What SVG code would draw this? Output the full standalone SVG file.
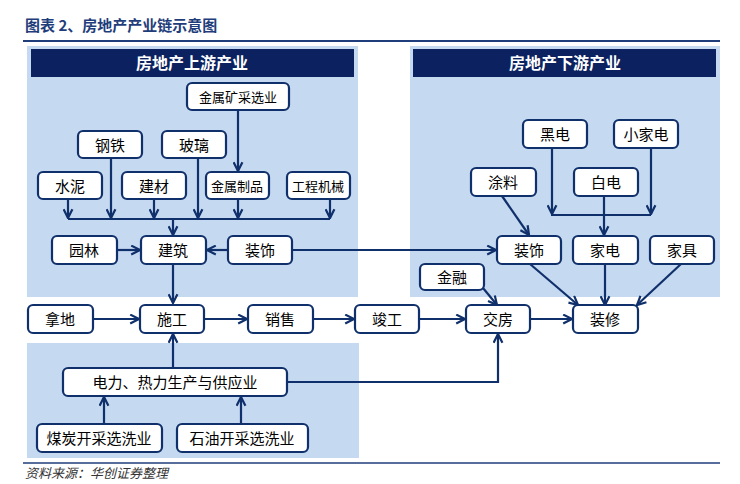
<svg xmlns="http://www.w3.org/2000/svg" width="740" height="484" viewBox="0 0 740 484">
<style>
.n rect{fill:#fff;stroke:#10306b;stroke-width:2.2}
.n text{font-family:"Liberation Sans","Noto Sans CJK SC",sans-serif;font-size:15px;fill:#000;text-anchor:middle;dominant-baseline:central}
.s text{font-size:13px}
.c line,.c polyline{stroke:#10306b;stroke-width:2.2;fill:none}
.h{fill:#0c2260}
.ht{font-family:"Noto Sans CJK SC",sans-serif;font-size:16px;fill:#fff;text-anchor:middle;font-weight:bold}
</style>
<defs><marker id="a" viewBox="0 0 10 10" refX="9" refY="5" markerWidth="5" markerHeight="5" orient="auto"><polyline points="1,1 9,5 1,9" fill="none" stroke="#10306b" stroke-width="2"/></marker></defs>
<text x="25" y="31" font-family="Noto Sans CJK SC,sans-serif" font-size="15" font-weight="bold" fill="#1f3d7a">图表 2、房地产产业链示意图</text>
<line x1="23" y1="41" x2="720" y2="41" stroke="#1f3d7a" stroke-width="2"/>
<rect x="27" y="46" width="331" height="251" fill="#c5d9f1"/>
<rect x="410" y="46" width="310" height="251" fill="#c5d9f1"/>
<rect x="27" y="343" width="332" height="115" fill="#c5d9f1"/>
<rect class="h" x="31" y="49" width="323" height="28"/>
<text class="ht" x="192" y="69">房地产上游产业</text>
<rect class="h" x="413" y="49" width="303" height="28"/>
<text class="ht" x="565" y="69">房地产下游产业</text>
<g class="c">
<polyline points="68,219 330,219"/>
<line x1="68" y1="199" x2="68" y2="218" marker-end="url(#a)"/>
<line x1="111" y1="158" x2="111" y2="218" marker-end="url(#a)"/>
<line x1="154" y1="199" x2="154" y2="218" marker-end="url(#a)"/>
<line x1="198" y1="158" x2="198" y2="218" marker-end="url(#a)"/>
<line x1="238" y1="199" x2="238" y2="218" marker-end="url(#a)"/>
<line x1="330" y1="199" x2="330" y2="218" marker-end="url(#a)"/>
<line x1="238" y1="110" x2="238" y2="171" marker-end="url(#a)"/>
<line x1="173" y1="219" x2="173" y2="235" marker-end="url(#a)"/>
<line x1="117" y1="250" x2="140" y2="250" marker-end="url(#a)"/>
<line x1="228" y1="250" x2="207" y2="250" marker-end="url(#a)"/>
<line x1="292" y1="250" x2="496" y2="250" marker-end="url(#a)"/>
<line x1="173" y1="264" x2="173" y2="303" marker-end="url(#a)"/>
<line x1="93" y1="319" x2="139" y2="319" marker-end="url(#a)"/>
<line x1="204" y1="319" x2="247" y2="319" marker-end="url(#a)"/>
<line x1="313" y1="319" x2="354" y2="319" marker-end="url(#a)"/>
<line x1="419" y1="319" x2="465" y2="319" marker-end="url(#a)"/>
<line x1="530" y1="319" x2="572" y2="319" marker-end="url(#a)"/>
<line x1="173" y1="368" x2="173" y2="334" marker-end="url(#a)"/>
<polyline points="287,382 498,382 498,334" marker-end="url(#a)"/>
<line x1="104" y1="424" x2="104" y2="397" marker-end="url(#a)"/>
<line x1="241" y1="424" x2="241" y2="397" marker-end="url(#a)"/>
<polyline points="551,215 651,215"/>
<line x1="552" y1="148" x2="552" y2="214" marker-end="url(#a)"/>
<line x1="651" y1="148" x2="651" y2="214" marker-end="url(#a)"/>
<line x1="604" y1="196" x2="604" y2="235" marker-end="url(#a)"/>
<line x1="502" y1="196" x2="529" y2="235" marker-end="url(#a)"/>
<line x1="530" y1="264" x2="578" y2="305" marker-end="url(#a)"/>
<line x1="605" y1="264" x2="605" y2="305" marker-end="url(#a)"/>
<line x1="681" y1="264" x2="637" y2="305" marker-end="url(#a)"/>
<line x1="483" y1="288" x2="497" y2="305" marker-end="url(#a)"/>
</g>
<g class="n s" id="jsk"><rect x="187" y="83" width="102" height="27" rx="5"/><text x="238" y="97">金属矿采选业</text></g>
<g class="n" id="gt"><rect x="78" y="131" width="64" height="27" rx="5"/><text x="110" y="145">钢铁</text></g>
<g class="n" id="bl"><rect x="162" y="131" width="64" height="27" rx="5"/><text x="194" y="145">玻璃</text></g>
<g class="n" id="sn"><rect x="38" y="172" width="64" height="27" rx="5"/><text x="70" y="186">水泥</text></g>
<g class="n" id="jc"><rect x="122" y="172" width="64" height="27" rx="5"/><text x="154" y="186">建材</text></g>
<g class="n s" id="jszp"><rect x="206" y="172" width="63" height="27" rx="5"/><text x="237" y="186">金属制品</text></g>
<g class="n s" id="gcjx"><rect x="287" y="172" width="63" height="27" rx="5"/><text x="318" y="186">工程机械</text></g>
<g class="n" id="yl"><rect x="52" y="236" width="65" height="28" rx="5"/><text x="84" y="250">园林</text></g>
<g class="n" id="jz"><rect x="141" y="236" width="65" height="28" rx="5"/><text x="173" y="250">建筑</text></g>
<g class="n" id="zs1"><rect x="228" y="236" width="64" height="28" rx="5"/><text x="260" y="250">装饰</text></g>
<g class="n" id="hd"><rect x="523" y="120" width="64" height="28" rx="5"/><text x="555" y="134">黑电</text></g>
<g class="n" id="xjd"><rect x="614" y="120" width="64" height="28" rx="5"/><text x="646" y="134">小家电</text></g>
<g class="n" id="tl"><rect x="471" y="168" width="65" height="28" rx="5"/><text x="503" y="182">涂料</text></g>
<g class="n" id="bd"><rect x="574" y="168" width="64" height="28" rx="5"/><text x="606" y="182">白电</text></g>
<g class="n" id="zs2"><rect x="497" y="236" width="64" height="28" rx="5"/><text x="529" y="250">装饰</text></g>
<g class="n" id="jd"><rect x="573" y="236" width="65" height="28" rx="5"/><text x="605" y="250">家电</text></g>
<g class="n" id="jj"><rect x="650" y="236" width="64" height="28" rx="5"/><text x="682" y="250">家具</text></g>
<g class="n" id="jr"><rect x="420" y="264" width="64" height="26" rx="5"/><text x="452" y="277">金融</text></g>
<g class="n" id="nd"><rect x="28" y="305" width="65" height="28" rx="5"/><text x="60" y="319">拿地</text></g>
<g class="n" id="sg"><rect x="140" y="305" width="64" height="28" rx="5"/><text x="172" y="319">施工</text></g>
<g class="n" id="xs"><rect x="248" y="305" width="65" height="28" rx="5"/><text x="280" y="319">销售</text></g>
<g class="n" id="jg"><rect x="355" y="305" width="64" height="28" rx="5"/><text x="387" y="319">竣工</text></g>
<g class="n" id="jf"><rect x="466" y="305" width="64" height="28" rx="5"/><text x="498" y="319">交房</text></g>
<g class="n" id="zx"><rect x="573" y="305" width="65" height="28" rx="5"/><text x="605" y="319">装修</text></g>
<g class="n" id="dl"><rect x="63" y="368" width="224" height="28" rx="5"/><text x="175" y="382">电力、热力生产与供应业</text></g>
<g class="n" id="mt"><rect x="37" y="424" width="125" height="28" rx="5"/><text x="99" y="438">煤炭开采选洗业</text></g>
<g class="n" id="sy"><rect x="177" y="424" width="131" height="28" rx="5"/><text x="242" y="438">石油开采选洗业</text></g>
<line x1="23" y1="463" x2="720" y2="463" stroke="#1f3d7a" stroke-width="1.5"/>
<text x="25" y="478" font-family="Noto Sans CJK SC,sans-serif" font-size="13" font-style="italic" fill="#333">资料来源：华创证券整理</text>
</svg>
